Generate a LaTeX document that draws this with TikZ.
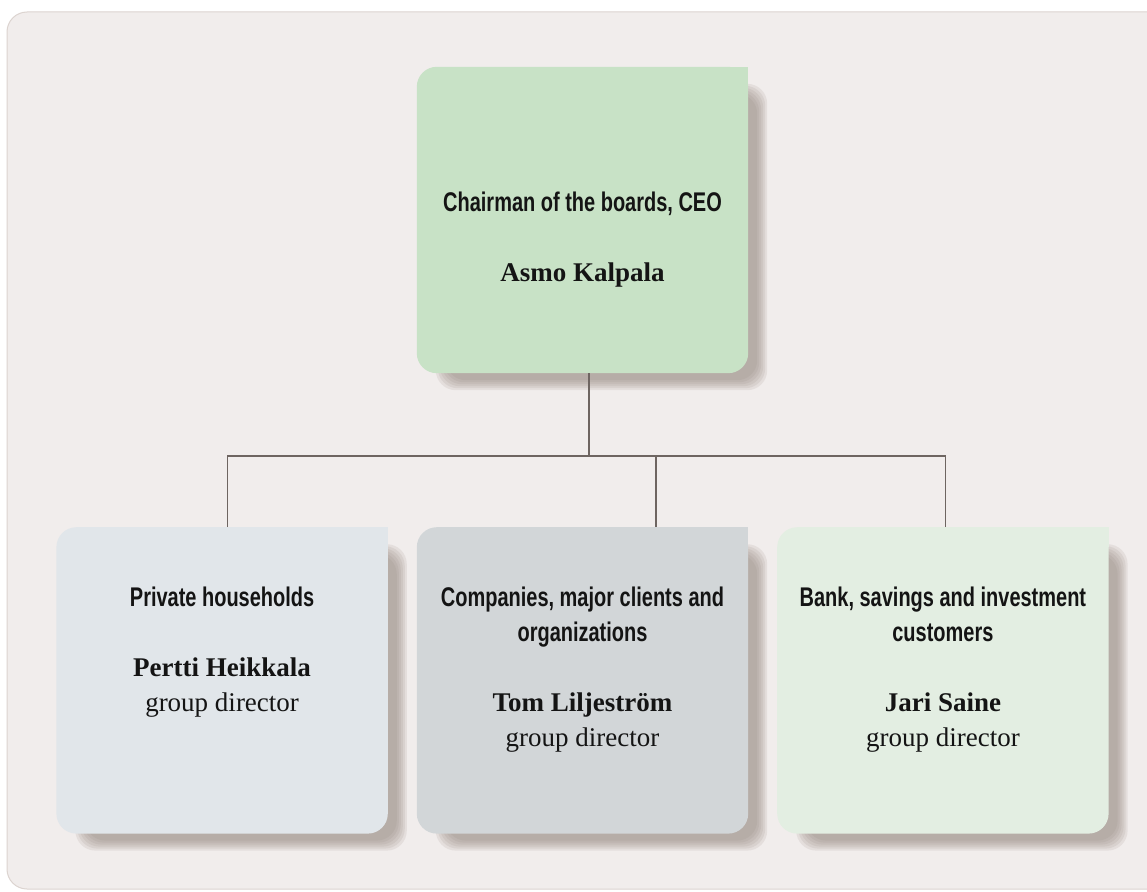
\documentclass[tikz,border=0pt]{standalone}
\usepackage{fontspec}
\usepackage{tikz}
\usetikzlibrary{positioning, backgrounds}
\setmainfont{Liberation Serif}
\newfontfamily\headfont[FakeStretch=0.74]{Liberation Sans}
\definecolor{panelgray}{HTML}{F1EDEC}
\definecolor{panelline}{HTML}{DCD4D0}
\definecolor{ceogreen}{HTML}{C8E2C6}
\definecolor{privateblue}{HTML}{E1E6EA}
\definecolor{companygray}{HTML}{D2D6D8}
\definecolor{bankgreen}{HTML}{E3EEE2}
\definecolor{linegray}{HTML}{6E6561}
\definecolor{shadowtone}{HTML}{8E7F77}
\definecolor{textblack}{HTML}{141414}
\tikzstyle{card} = [rectangle, minimum width=331pt, minimum height=306pt, inner sep=0pt]
\tikzstyle{cardtext} = [anchor=north, align=center, inner sep=0pt, text=textblack, font=\fontsize{27}{35}\selectfont]
\tikzstyle{branch} = [draw=linegray, line width=1.3pt]
\newcommand{\head}[1]{{\headfont\bfseries #1}}
% card with soft shadow, top right corner left square
\newcommand{\orgcard}[2]{%
  \foreach \s in {0,2,...,10}
    \fill[shadowtone, opacity=0.13, rounded corners=20pt]
      ([shift={(19+\s,17+\s)}]#1.north west) rectangle ([shift={(19-\s,17-\s)}]#1.south east);
  \fill[#2, rounded corners=20pt] (#1.north west) rectangle (#1.south east);
  \fill[#2] (#1.north east) rectangle ([shift={(-20,20)}]#1.north east);
}

\begin{document}
\begin{tikzpicture}[x=1pt, y=-1pt]
    \useasboundingbox (0,0) rectangle (1147,891);

    \node (ceo) [card] at (582.5,220) {};
    \node (companies) [card, below=154pt of ceo] {};
    \node (private) [card, left=29pt of companies] {};
    \node (bank) [card, right=29pt of companies] {};

    \node (ceotext) [cardtext] at ([yshift=-125pt]ceo.north)
        {\head{Chairman of the boards, CEO}\\[35pt]\textbf{Asmo Kalpala}};
    \node (privatetext) [cardtext] at ([yshift=-60pt]private.north)
        {\head{Private households}\\[35pt]\textbf{Pertti Heikkala}\\group director};
    \node (companiestext) [cardtext] at ([yshift=-60pt]companies.north)
        {\head{Companies, major clients and}\\\head{organizations}\\[35pt]\textbf{Tom Liljeström}\\group director};
    \node (banktext) [cardtext] at ([yshift=-60pt]bank.north)
        {\head{Bank, savings and investment}\\\head{customers}\\[35pt]\textbf{Jari Saine}\\group director};

    \coordinate (split) at (589,456);
    \draw [branch] (ceo.south -| split) -- (split);
    \draw [branch] ([xshift=5.5pt]private.north) |- (split);
    \draw [branch] ([xshift=73.5pt]companies.north) |- (split);
    \draw [branch] ([xshift=2.5pt]bank.north) |- (split);

    \begin{pgfonlayer}{background}
        \fill [white] (0,0) rectangle (1147,891);
        \path [fill=panelgray, draw=panelline, line width=1pt, rounded corners=20pt]
            (1170,12) -- (7,12) -- (7,889) -- (1170,889);
        \orgcard{ceo}{ceogreen}
        \orgcard{private}{privateblue}
        \orgcard{companies}{companygray}
        \orgcard{bank}{bankgreen}
    \end{pgfonlayer}
\end{tikzpicture}
\end{document}
